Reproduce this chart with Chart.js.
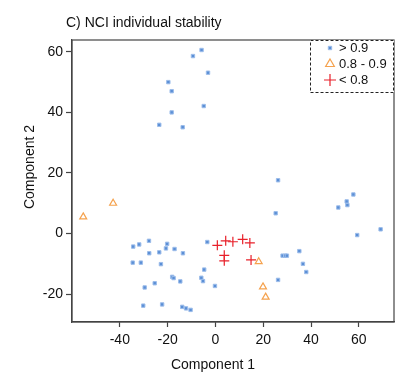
<!DOCTYPE html>
<html>
<head>
<meta charset="utf-8">
<script src="https://cdn.jsdelivr.net/npm/chart.js@4"></script>
<style>
  html, body { margin: 0; padding: 0; background: #fff; }
  #wrap { width: 414px; height: 383px; }
</style>
</head>
<body>
<div id="wrap"><canvas id="pca" width="414" height="383"></canvas></div>
<script>
// Stability groups (legend labels)
const groupLabels = ['> 0.9', '0.8 - 0.9', '< 0.8'];

// > 0.9 (blue squares)
const highX = [-5.8, -9.4, -3.1, -19.7, -18.3, -4.9, -18.3, -23.5, -13.7,
  26.2, 57.7, 54.9, 55.2, 51.4, 25.2, 59.3, 69.1,
  -34.4, -31.9, -27.8, -20.2, -20.7, -17.1, -27.7, -23.5, -13.6, -34.6, -31.2, -22.8,
  -3.4, -4.7, -18.1, -17.5, -14.7, -5.9, -5.2, -25.4, -29.6, -0.2,
  -30.2, -22.3, -13.9, -12.3, -10.4,
  28.1, 29.2, 29.9, 35.1, 36.6, 38.0, 26.2];
const highY = [60.6, 58.6, 53.1, 50.0, 47.0, 42.1, 40.0, 35.9, 35.1,
  17.6, 12.9, 10.6, 9.4, 8.6, 6.7, -0.5, 1.4,
  -4.3, -3.6, -2.4, -3.4, -4.9, -5.1, -6.5, -6.2, -6.5, -9.6, -9.6, -10.1,
  -2.8, -11.9, -14.3, -14.7, -15.8, -14.6, -15.7, -16.4, -17.8, -17.3,
  -23.8, -23.4, -24.2, -24.7, -25.2,
  -7.3, -7.3, -7.3, -5.8, -10.0, -12.7, -15.3];

// 0.8 - 0.9 (orange triangles)
const midX = [-42.8, -55.3, 18.1, 19.9, 21.0];
const midY = [10.0, 5.5, -9.3, -17.6, -21.0];

// < 0.8 (red crosses)
const lowX = [0.8, 4.3, 7.3, 11.4, 14.4, 3.7, 3.7, 14.9];
const lowY = [-3.9, -2.4, -2.7, -1.9, -3.1, -7.2, -9.0, -8.7];

const xTicks = [-40, -20, 0, 20, 40, 60];
const yTicks = [-20, 0, 20, 40, 60];

const toPoints = (xs, ys) => xs.map((x, i) => ({ x: x, y: ys[i] }));

const FONT = '"Liberation Sans", Arial, sans-serif';
const AXIS = '#444';

// title, axis titles, plot box and the dashed legend
const decorations = {
    id: 'decorations',
    afterDraw(chart) {
        const ctx = chart.ctx;
        const a = chart.chartArea;
        ctx.save();
        ctx.strokeStyle = AXIS;
        ctx.lineWidth = 1.2;
        ctx.strokeRect(a.left, a.top, a.right - a.left, a.bottom - a.top);

        ctx.fillStyle = '#111';
        ctx.font = '14px ' + FONT;
        ctx.textBaseline = 'middle';
        ctx.textAlign = 'left';
        ctx.fillText('C) NCI individual stability', 66, 23);
        ctx.textAlign = 'center';
        ctx.fillText('Component 1', 213, 365);
        ctx.translate(30, 167);
        ctx.rotate(-Math.PI / 2);
        ctx.fillText('Component 2', 0, 0);
        ctx.restore();

        // legend box
        ctx.save();
        const lx = 310, ly = a.top, lw = a.right - 310, lh = 53;
        ctx.fillStyle = '#fff';
        ctx.fillRect(lx, ly, lw, lh);
        ctx.setLineDash([3, 2]);
        ctx.strokeStyle = '#222';
        ctx.lineWidth = 1;
        ctx.strokeRect(lx + 0.5, ly + 0.5, lw - 1, lh - 1);
        ctx.setLineDash([]);
        ctx.font = '13px ' + FONT;
        ctx.textBaseline = 'middle';
        ctx.textAlign = 'left';
        const rows = [48, 64, 80];
        chart.data.datasets.forEach((ds, i) => {
            const y = rows[i];
            ctx.fillStyle = ds.backgroundColor;
            ctx.strokeStyle = ds.borderColor;
            ctx.lineWidth = ds.borderWidth;
            Chart.helpers.drawPoint(ctx, {
                pointStyle: ds.pointStyle,
                radius: ds.pointRadius + (i === 0 ? 0 : 1),
                borderWidth: ds.borderWidth
            }, 330, y);
            ctx.fillStyle = '#111';
            ctx.fillText(ds.label, 339, y);
        });
        ctx.restore();
    }
};

new Chart(document.getElementById('pca').getContext('2d'), {
    type: 'scatter',
    data: {
        datasets: [
            {
                label: groupLabels[0],
                data: toPoints(highX, highY),
                pointStyle: 'rect',
                pointRadius: 2.4,
                backgroundColor: '#5b8fd6',
                borderColor: '#9dbdea',
                borderWidth: 1
            },
            {
                label: groupLabels[1],
                data: toPoints(midX, midY),
                pointStyle: 'triangle',
                pointRadius: 4,
                backgroundColor: 'rgba(0,0,0,0)',
                borderColor: '#f5a24e',
                borderWidth: 1.2
            },
            {
                label: groupLabels[2],
                data: toPoints(lowX, lowY),
                pointStyle: 'cross',
                pointRadius: 5,
                backgroundColor: 'rgba(0,0,0,0)',
                borderColor: '#e8202a',
                borderWidth: 1.2
            }
        ]
    },
    options: {
        responsive: false,
        animation: false,
        layout: { padding: { top: 40, right: 20, left: 0, bottom: 0 } },
        plugins: {
            legend: { display: false },
            tooltip: { enabled: false }
        },
        scales: {
            x: {
                type: 'linear',
                min: -60,
                max: 74.7,
                afterBuildTicks: (s) => { s.ticks = xTicks.map(v => ({ value: v })); },
                afterFit: (s) => { s.height = 61; },
                grid: { drawOnChartArea: false, tickLength: 5, color: AXIS, tickWidth: 1.2 },
                border: { display: true, color: AXIS, width: 1.2 },
                ticks: { color: '#111', font: { size: 14, family: FONT }, padding: 5, maxRotation: 0 }
            },
            y: {
                type: 'linear',
                min: -29.2,
                max: 63.9,
                afterBuildTicks: (s) => { s.ticks = yTicks.map(v => ({ value: v })); },
                afterFit: (s) => { s.width = 72; },
                grid: { drawOnChartArea: false, tickLength: 6, color: AXIS, tickWidth: 1.2 },
                border: { display: true, color: AXIS, width: 1.2 },
                ticks: { color: '#111', font: { size: 14, family: FONT }, padding: 3 }
            }
        }
    },
    plugins: [decorations]
});
</script>
</body>
</html>
